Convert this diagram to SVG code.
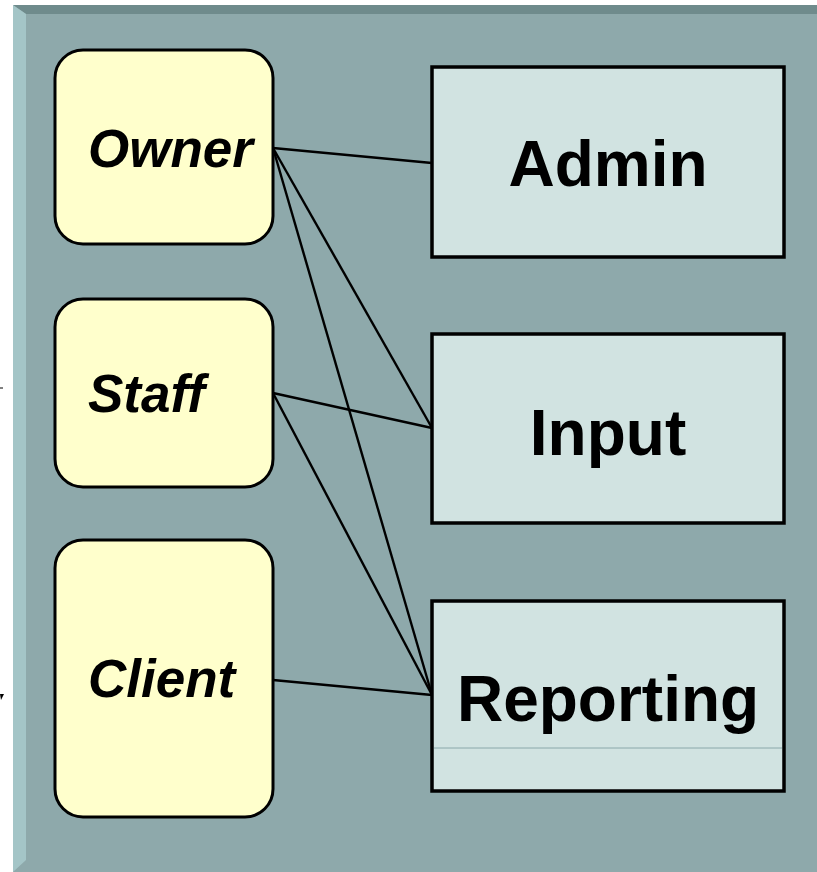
<svg xmlns="http://www.w3.org/2000/svg" width="817" height="872" viewBox="0 0 817 872">
  <style>
    .role rect { fill: #FFFFCC; stroke: #000; stroke-width: 3; }
    .role text { font-family: "Liberation Sans", Arial, sans-serif; font-weight: bold; font-style: italic; font-size: 53px; fill: #000; }
    .area rect { fill: #D1E3E1; stroke: #000; stroke-width: 3.5; }
    .area text { font-family: "Liberation Sans", Arial, sans-serif; font-weight: bold; font-size: 64px; fill: #000; text-anchor: middle; }
    #links line { stroke: #000; stroke-width: 2.4; }
  </style>

  <rect width="817" height="872" fill="#FFFFFF"/>

  <!-- backdrop panel with bevelled edges -->
  <g id="panel">
    <rect x="13" y="5" width="804" height="867" fill="#8EA9AB"/>
    <polygon points="13,5 817,5 817,14 26,14" fill="#6F8B8C"/>
    <polygon points="13,5 26,14 26,860 13,872" fill="#A4C5C7"/>
  </g>

  <!-- stray marks at the left edge -->
  <line x1="0" y1="388" x2="3" y2="388" stroke="#000" stroke-width="1"/>
  <polygon points="0,694 4,694 1,700" fill="#000"/>

  <!-- connectors -->
  <g id="links">
    <line x1="273" y1="148" x2="432" y2="163"/>
    <line x1="273" y1="148" x2="432" y2="428"/>
    <line x1="273" y1="148" x2="432" y2="695"/>
    <line x1="273" y1="393" x2="432" y2="428"/>
    <line x1="273" y1="393" x2="432" y2="695"/>
    <line x1="273" y1="680" x2="432" y2="695"/>
  </g>

  <!-- roles -->
  <g id="owner" class="role">
    <rect x="55" y="50" width="218" height="194" rx="28" ry="28"/>
    <text x="88" y="167">Owner</text>
  </g>
  <g id="staff" class="role">
    <rect x="55" y="299" width="218" height="188" rx="28" ry="28"/>
    <text x="88" y="412">Staff</text>
  </g>
  <g id="client" class="role">
    <rect x="55" y="540" width="218" height="277" rx="28" ry="28"/>
    <text x="88" y="697">Client</text>
  </g>

  <!-- functional areas -->
  <g id="admin" class="area">
    <rect x="432" y="67" width="352" height="190"/>
    <text x="608" y="186">Admin</text>
  </g>
  <g id="input" class="area">
    <rect x="432" y="334" width="352" height="189"/>
    <text x="608" y="455">Input</text>
  </g>
  <g id="reporting" class="area">
    <rect x="432" y="601" width="352" height="190"/>
    <line x1="434" y1="748" x2="782" y2="748" stroke="#8AA8AA" stroke-width="1"/>
    <text x="608" y="721">Reporting</text>
  </g>
</svg>
